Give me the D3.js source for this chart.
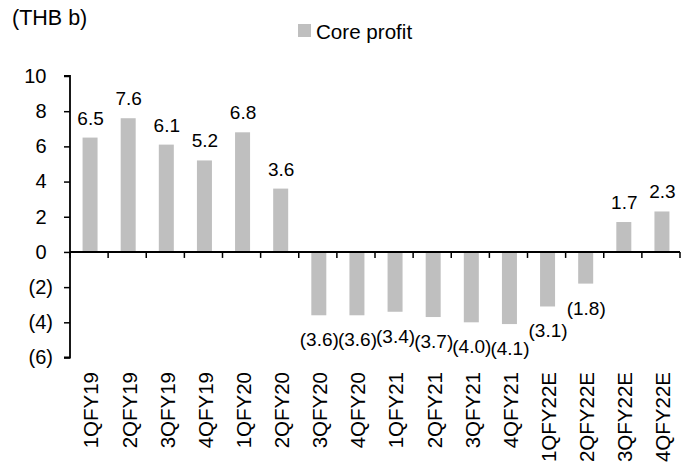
<!DOCTYPE html>
<html>
<head>
<meta charset="utf-8">
<script src="https://cdn.jsdelivr.net/npm/d3@7"></script>
<style>
  html, body { margin: 0; padding: 0; background: #fff; }
  text { font-family: "Liberation Sans", Arial, sans-serif; fill: #000; }
</style>
</head>
<body>
<svg id="chart" width="688" height="465"></svg>
<script>
const categories = ["1QFY19","2QFY19","3QFY19","4QFY19","1QFY20","2QFY20","3QFY20","4QFY20","1QFY21","2QFY21","3QFY21","4QFY21","1QFY22E","2QFY22E","3QFY22E","4QFY22E"];
const coreProfit = [6.5, 7.6, 6.1, 5.2, 6.8, 3.6, -3.6, -3.6, -3.4, -3.7, -4.0, -4.1, -3.1, -1.8, 1.7, 2.3];
const yTicks = [10, 8, 6, 4, 2, 0, -2, -4, -6];
const seriesName = "Core profit";
const unitLabel = "(THB b)";

(function () {
const svg = d3.select("#chart");
const pLeft = 70, pRight = 680, pTop = 76, pBottom = 357.5;

const x = d3.scaleBand().domain(categories).range([pLeft, pRight]).paddingInner(0).paddingOuter(0);
const y = d3.scaleLinear().domain([-6, 10]).range([pBottom, pTop]);
const barW = 15;
const barColor = "#BFBFBF";
const fmt = v => v < 0 ? "(" + Math.abs(v).toFixed(1) + ")" : v.toFixed(1);
const tickFmt = v => v < 0 ? "(" + Math.abs(v) + ")" : String(v);

// title
svg.append("text").attr("x", 12).attr("y", 25).attr("font-size", 21.5).text(unitLabel);

// legend
svg.append("rect").attr("x", 298).attr("y", 24).attr("width", 13).attr("height", 13).attr("fill", barColor);
svg.append("text").attr("x", 316).attr("y", 38.5).attr("font-size", 20.6).text(seriesName);

// bars
svg.append("g").selectAll("rect").data(categories).join("rect")
  .attr("x", (d) => x(d) + (x.bandwidth() - barW) / 2 + 1)
  .attr("width", barW)
  .attr("y", (d, i) => y(Math.max(0, coreProfit[i])))
  .attr("height", (d, i) => Math.abs(y(coreProfit[i]) - y(0)))
  .attr("fill", barColor);

// y axis
const yAxis = d3.axisLeft(y).tickValues(yTicks).tickSize(6).tickPadding(11).tickFormat(tickFmt);
const gy = svg.append("g").attr("transform", `translate(${pLeft},0)`).call(yAxis);
gy.select(".domain").attr("stroke", "#000").attr("stroke-width", 1.8).attr("d", `M-6,${pTop}H0V${pBottom}H-6`);
gy.selectAll(".tick line").attr("stroke", "#000").attr("stroke-width", 1.5);
gy.selectAll(".tick text")
  .attr("font-size", 20)
  .attr("font-family", "Liberation Sans, Arial, sans-serif")
  .attr("fill", "#000")
  .attr("dx", d => d >= 0 ? -6.5 : 0);

// x axis at zero
const boundaries = categories.map(c => x(c)).concat([pRight]);
const xAxis = d3.axisBottom(x).tickSize(0).tickFormat("");
const gx = svg.append("g").attr("transform", `translate(0,${y(0)})`).call(xAxis);
gx.select(".domain").attr("stroke", "#000").attr("stroke-width", 2).attr("d", `M${pLeft},0H${pRight}`);
gx.selectAll(".tick").remove();
gx.selectAll("line.bnd").data(boundaries).join("line").attr("class", "bnd")
  .attr("x1", d => d).attr("x2", d => d).attr("y1", 0).attr("y2", 6)
  .attr("stroke", "#000").attr("stroke-width", 1.5);

// category labels at bottom
svg.append("g").selectAll("text").data(categories).join("text")
  .attr("transform", d => `translate(${x(d) + x.bandwidth() / 2 + 2},372) rotate(-90)`)
  .attr("text-anchor", "end")
  .attr("dy", "0.36em")
  .attr("font-size", 20.5)
  .text(d => d);

// data labels
svg.append("g").selectAll("text").data(categories).join("text")
  .attr("x", d => x(d) + x.bandwidth() / 2 + 1.5)
  .attr("y", (d, i) => coreProfit[i] >= 0 ? y(coreProfit[i]) - 13 : y(coreProfit[i]) + 31)
  .attr("text-anchor", "middle")
  .attr("font-size", 19)
  .text((d, i) => fmt(coreProfit[i]));
})();
</script>
</body>
</html>
